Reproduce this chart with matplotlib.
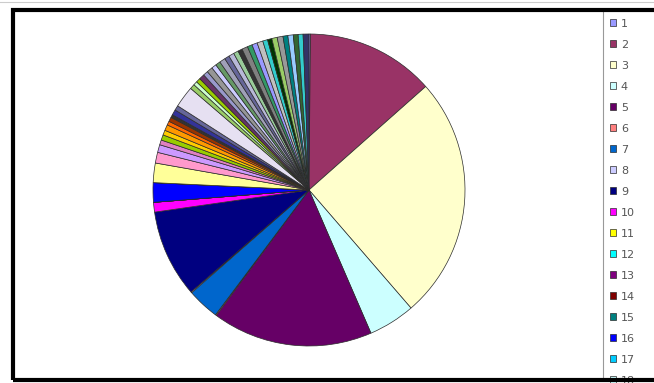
"""
Pie chart of category shares (Excel-style, many thin slices)
"""
import matplotlib
matplotlib.use("Agg")
import matplotlib.pyplot as plt
from matplotlib.patches import Rectangle
from matplotlib.lines import Line2D

# Share of each category, in percent
values = [
    0.15, 13.2, 25.0, 4.8, 16.5, 0.1, 3.3, 0.1, 9.0, 1.0,
    0.0, 0.0, 0.0, 0.0, 0.0, 2.0, 0.0, 0.0, 0.0, 2.0,
    1.1, 0.8, 0.5, 0.55, 0.5, 0.6, 0.4, 0.45, 0.3, 0.55,
    0.5, 2.2, 0.5, 0.4, 0.45, 0.55, 0.5, 0.6, 0.5, 0.5,
    0.6, 0.5, 0.55, 0.5, 0.45, 0.6, 0.5, 0.55, 0.6, 0.5,
    0.45, 0.55, 0.6, 0.5, 0.55, 0.5, 0.5, 0.6,
]
labels = [str(i) for i in range(1, len(values) + 1)]

# Slice colours (Excel default chart palette, then what the picture shows)
colors = [
    '#9999FF', '#993366', '#FFFFCC', '#CCFFFF', '#660066', '#FF8080', '#0066CC', '#CCCCFF', '#000080', '#FF00FF',
    '#FFFF00', '#00FFFF', '#800080', '#800000', '#008080', '#0000FF', '#00CCFF', '#CCFFFF', '#CCFFCC', '#FFFF99',
    '#FF99CC', '#CC99FF', '#E080C0', '#99CC00', '#FFCC00', '#FF9900', '#FF6600', '#993300', '#333333', '#333399',
    '#666699', '#E6E0F2', '#99CC66', '#CCFFCC', '#99CC00', '#663366', '#9999CC', '#969696', '#CCCCFF', '#669966',
    '#A0A0B8', '#666699', '#B8B8D8', '#99CC99', '#333333', '#808080', '#339966', '#9999FF', '#C0C0C0', '#33CCCC',
    '#003300', '#99CC66', '#999999', '#008080', '#99CCFF', '#336633', '#33CCCC', '#333366',
]

# legend only has room for the first entries before the chart edge cuts it
n_legend = 18

W, H = 654, 383
fig = plt.figure(figsize=(W / 100, H / 100), dpi=100)
fig.patch.set_facecolor('white')

# pie placed by pixel centre / radius
cx, cy, r = 309, 190, 156
ax = fig.add_axes([(cx - r) / W, (H - cy - r) / H, 2 * r / W, 2 * r / H])
wedges, _ = ax.pie(values, colors=colors, startangle=90, counterclock=False,
                   wedgeprops=dict(edgecolor='#2b2b2b', linewidth=0.5))
ax.set_xlim(-1, 1)
ax.set_ylim(-1, 1)

# legend runs off the bottom, as in the original
leg = fig.legend(wedges[:n_legend], labels[:n_legend], loc='upper left',
                 bbox_to_anchor=(603 / W, 1 - 12 / H), bbox_transform=fig.transFigure,
                 borderaxespad=0, frameon=False,
                 fontsize=8, handlelength=0.6, handleheight=0.6, handletextpad=0.4,
                 labelspacing=0.99, borderpad=0.6)
for t in leg.get_texts():
    t.set_color('#555555')

# legend box left edge
fig.add_artist(Line2D([603 / W, 603 / W], [1 - 10 / H, 1 - 380 / H], color='#999999', lw=0.8,
                      transform=fig.transFigure))
# thick outer frame and faint top line
fig.add_artist(Rectangle((12.5 / W, (H - 380) / H), (720 - 12.5) / W, (380 - 10) / H,
                         fill=False, lw=3, ec='black', transform=fig.transFigure, zorder=10))
fig.add_artist(Line2D([0, 1], [1 - 1.5 / H, 1 - 1.5 / H], color='#cccccc', lw=0.8,
                      transform=fig.transFigure))

fig.savefig('out.png', dpi=100)
